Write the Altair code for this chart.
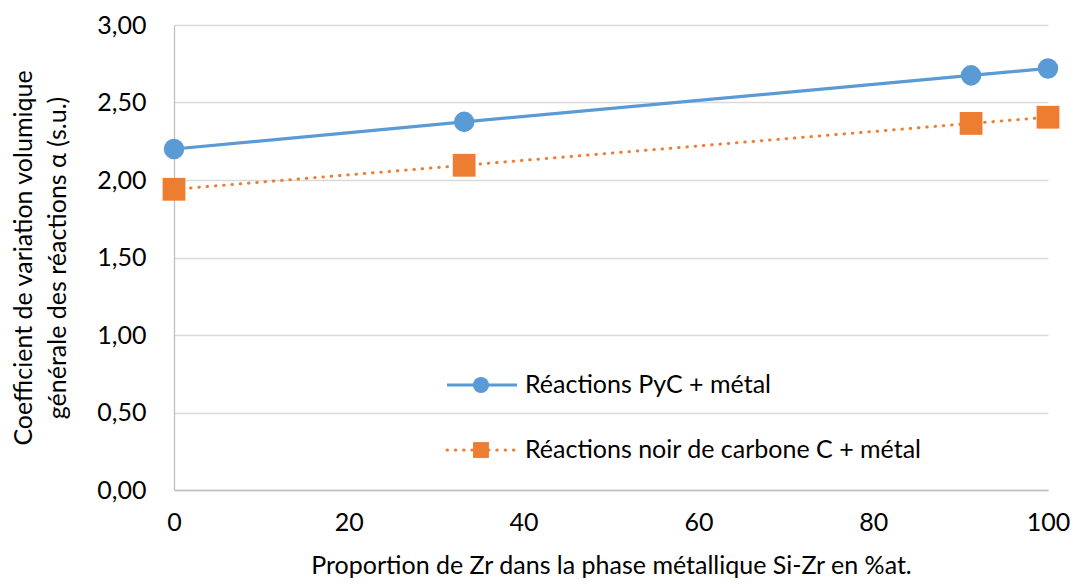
import altair as alt
import pandas as pd

x_vals = [0, 33.2, 91.2, 100]
pyc_vals = [2.20, 2.375, 2.675, 2.72]
noir_vals = [1.94, 2.095, 2.365, 2.405]
series_names = ["Réactions PyC + métal", "Réactions noir de carbone C + métal"]
colors = ["#5B9BD5", "#ED7D31"]

FONT = "Lato"
FS = 25
W, H = 874, 465

df_pyc = pd.DataFrame({"x": x_vals, "y": pyc_vals})
df_noir = pd.DataFrame({"x": x_vals, "y": noir_vals})
df_one = pd.DataFrame({"k": [0]})

xs = alt.Scale(domain=[0, 100], nice=False)
ys = alt.Scale(domain=[0, 3], nice=False)

xaxis = alt.Axis(values=[0, 20, 40, 60, 80, 100], grid=False, ticks=False,
                 domainColor="#BFBFBF", domainWidth=1.3, labelPadding=20, labelFlush=False,
                 labelFontSize=FS, labelFont=FONT, labelColor="#000000", labelFontWeight="normal",
                 title="Proportion de Zr dans la phase métallique Si-Zr en %at.",
                 titleFontSize=FS, titleFont=FONT, titleFontWeight="normal",
                 titleColor="#000000", titlePadding=18)
yaxis = alt.Axis(values=[0, 0.5, 1, 1.5, 2, 2.5, 3], grid=True, gridColor="#D9D9D9",
                 gridWidth=1.3, ticks=False, domainColor="#BFBFBF", domainWidth=1.3,
                 labelPadding=28, labelFontSize=FS, labelFont=FONT, labelColor="#000000",
                 labelFontWeight="normal", labelFlush=False,
                 labelExpr="replace(format(datum.value, '.2f'), '.', ',')",
                 title=["Coefficient de variation volumique", "générale des réactions  α (s.u.)"],
                 titleFontSize=FS, titleFont=FONT, titleFontWeight="normal",
                 titleColor="#000000", titlePadding=26, titleLineHeight=34)

base_x = alt.X("x:Q", scale=xs, axis=xaxis)
base_y = alt.Y("y:Q", scale=ys, axis=yaxis)

line_pyc = alt.Chart(df_pyc).mark_line(color=colors[0], strokeWidth=3.2).encode(x=base_x, y=base_y)
pts_pyc = alt.Chart(df_pyc).mark_point(shape="circle", filled=True, size=420, opacity=1,
                                       color=colors[0]).encode(x="x:Q", y="y:Q")
line_noir = alt.Chart(df_noir).mark_line(color=colors[1], strokeWidth=3, strokeDash=[0.5, 7.8],
                                         strokeCap="round").encode(x="x:Q", y="y:Q")
pts_noir = alt.Chart(df_noir).mark_point(shape="square", filled=True, size=520, opacity=1,
                                         color=colors[1]).encode(x="x:Q", y="y:Q")

# manual legend (single-row data so each element is drawn once)
leg1_line = alt.Chart(df_one).mark_rule(color=colors[0], strokeWidth=3.2).encode(
    x=alt.value(273), x2=alt.value(343), y=alt.value(360))
leg1_pt = alt.Chart(df_one).mark_point(shape="circle", filled=True, size=260, opacity=1,
                                      color=colors[0]).encode(x=alt.value(307), y=alt.value(360))
leg1_txt = alt.Chart(df_one).mark_text(align="left", baseline="middle", fontSize=FS, font=FONT,
                                      fontWeight="normal", color="#000000").encode(
    x=alt.value(351), y=alt.value(360), text=alt.value(series_names[0]))
leg2_line = alt.Chart(df_one).mark_rule(color=colors[1], strokeWidth=3, strokeDash=[0.5, 7.8],
                                       strokeCap="round").encode(
    x=alt.value(273), x2=alt.value(343), y=alt.value(425))
leg2_pt = alt.Chart(df_one).mark_point(shape="square", filled=True, size=250, opacity=1,
                                      color=colors[1]).encode(x=alt.value(307), y=alt.value(425))
leg2_txt = alt.Chart(df_one).mark_text(align="left", baseline="middle", fontSize=FS, font=FONT,
                                      fontWeight="normal", color="#000000").encode(
    x=alt.value(351), y=alt.value(425), text=alt.value(series_names[1]))

chart = alt.layer(line_pyc, line_noir, pts_pyc, pts_noir,
                  leg1_line, leg1_pt, leg1_txt, leg2_line, leg2_pt, leg2_txt).properties(
    width=W, height=H,
    autosize=alt.AutoSizeParams(type="none"),
    padding={"left": 166, "top": 17, "right": 24, "bottom": 88},
    background="#FFFFFF",
).configure_view(stroke=None)

chart.save("out.html", embed_options={"renderer": "svg", "actions": False})
